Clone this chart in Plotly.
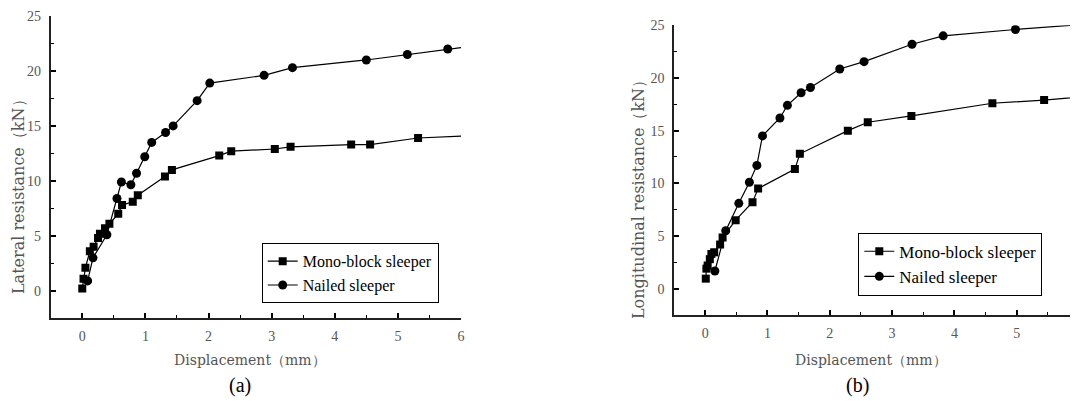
import plotly.graph_objects as go

# ---------------- data ----------------
# (a) lateral resistance
a_mono_x = [0.0, 0.02, 0.05, 0.12, 0.18, 0.25, 0.28, 0.36, 0.43, 0.57, 0.63, 0.80, 0.88, 1.31, 1.42,
            2.17, 2.36, 3.05, 3.30, 4.26, 4.56, 5.32, 6.1]
a_mono_y = [0.2, 1.1, 2.1, 3.6, 4.0, 4.8, 5.2, 5.7, 6.1, 7.0, 7.8, 8.1, 8.7, 10.4, 11.0,
            12.3, 12.7, 12.9, 13.1, 13.3, 13.3, 13.9, 14.1]
a_nail_x = [0.085, 0.17, 0.39, 0.55, 0.62, 0.77, 0.86, 0.99, 1.10, 1.32, 1.44, 1.82, 2.02,
            2.88, 3.33, 4.50, 5.15, 5.79, 6.1]
a_nail_y = [0.9, 3.0, 5.1, 8.4, 9.9, 9.65, 10.7, 12.2, 13.5, 14.4, 15.0, 17.3, 18.9,
            19.6, 20.3, 21.0, 21.5, 22.0, 22.2]

# (b) longitudinal resistance
b_mono_x = [0.01, 0.02, 0.04, 0.075, 0.10, 0.145, 0.24, 0.28, 0.49, 0.76, 0.85, 1.44, 1.52,
            2.29, 2.61, 3.31, 4.61, 5.44, 6.1]
b_mono_y = [0.95, 1.9, 2.2, 2.8, 3.3, 3.45, 4.2, 4.85, 6.5, 8.2, 9.5, 11.35, 12.8,
            15.0, 15.8, 16.4, 17.6, 17.9, 18.25]
b_nail_x = [0.156, 0.33, 0.54, 0.71, 0.83, 0.92, 1.20, 1.32, 1.54, 1.69, 2.16, 2.55, 3.32,
            3.82, 4.98, 6.1]
b_nail_y = [1.68, 5.5, 8.1, 10.1, 11.7, 14.5, 16.2, 17.4, 18.6, 19.1, 20.85, 21.55, 23.2,
            24.0, 24.6, 25.1]

series_names = ["Mono-block sleeper", "Nailed sleeper"]
x_ticks = [0, 1, 2, 3, 4, 5, 6]
y_ticks = [0, 5, 10, 15, 20, 25]
x_title = "Displacement（mm）"
y_titles = ["Lateral resistance（kN）", "Longitudinal resistance（kN）"]
panel_labels = ["(a)", "(b)"]

W, H = 1078, 401
OFF = 8  # page body margin

def px(v):
    return (v - OFF) / W

def py(v):
    return 1 - (v - OFF) / H

TICK_FONT = dict(family="Liberation Serif", size=14, color="#555555")
XTITLE_FONT = dict(family="DejaVu Serif", size=14, color="#555555")
YTITLE_FONT = dict(family="DejaVu Serif", size=16, color="#555555")

fig = go.Figure()

def add_pair(xm, ym, xn, yn, xa, ya, leg):
    fig.add_trace(go.Scatter(x=xm, y=ym, mode="lines+markers", name=series_names[0],
                             xaxis=xa, yaxis=ya, legend=leg,
                             line=dict(color="black", width=1.2),
                             marker=dict(symbol="square", size=8, color="black")))
    fig.add_trace(go.Scatter(x=xn, y=yn, mode="lines+markers", name=series_names[1],
                             xaxis=xa, yaxis=ya, legend=leg,
                             line=dict(color="black", width=1.2),
                             marker=dict(symbol="circle", size=9, color="black")))

add_pair(a_mono_x, a_mono_y, a_nail_x, a_nail_y, "x", "y", "legend")
add_pair(b_mono_x, b_mono_y, b_nail_x, b_nail_y, "x2", "y2", "legend2")

def xaxis(domain, anchor):
    return dict(domain=domain, anchor=anchor, range=[-0.5, 6], tickvals=x_ticks,
                ticks="inside", ticklen=5, tickwidth=1.5, tickcolor="black",
                minor=dict(ticks="inside", ticklen=3, dtick=0.5, tick0=0, tickcolor="black", tickwidth=1.2),
                showline=True, linecolor="#222222", linewidth=2, showgrid=False, zeroline=False,
                tickfont=TICK_FONT, ticklabelstandoff=4, automargin=False)

def yaxis(domain, anchor):
    return dict(domain=domain, anchor=anchor, range=[-2.5, 25], tickvals=y_ticks,
                ticks="inside", ticklen=5, tickwidth=1.5, tickcolor="black",
                minor=dict(ticks="inside", ticklen=3, dtick=2.5, tick0=0, tickcolor="black", tickwidth=1.2),
                showline=True, linecolor="#222222", linewidth=1.6, showgrid=False, zeroline=False,
                tickfont=TICK_FONT, ticklabelstandoff=5, automargin=False)

fig.update_layout(
    width=W, height=H,
    margin=dict(l=0, r=0, t=0, b=0, autoexpand=False),
    paper_bgcolor="white", plot_bgcolor="white",
    showlegend=True,
    xaxis=xaxis([px(50.7), px(461)], "y"),
    yaxis=yaxis([py(318.3), py(16)], "x"),
    xaxis2=xaxis([px(674), px(1079)], "y2"),
    yaxis2=yaxis([py(315), py(25.3)], "x2"),
    legend=dict(x=px(261.7), y=py(243.3), xanchor="left", yanchor="top",
                bordercolor="black", borderwidth=1, bgcolor="white",
                font=dict(family="Liberation Serif", size=16, color="black"), tracegroupgap=0),
    legend2=dict(x=px(858.3), y=py(232.7), xanchor="left", yanchor="top",
                 bordercolor="black", borderwidth=1, bgcolor="white",
                 font=dict(family="Liberation Serif", size=17, color="black"), tracegroupgap=0),
)

ann = []
# axis titles
ann.append(dict(text=y_titles[0], x=px(18), y=py(193), textangle=-90, font=YTITLE_FONT))
ann.append(dict(text=y_titles[1], x=px(638), y=py(196), textangle=-90, font=YTITLE_FONT))
ann.append(dict(text=x_title, x=px(250), y=py(360), textangle=0, font=XTITLE_FONT))
ann.append(dict(text=x_title, x=px(871), y=py(360), textangle=0, font=XTITLE_FONT))
for a in ann:
    a.update(xref="paper", yref="paper", showarrow=False, xanchor="center", yanchor="middle")
# panel labels
for lab, xx in zip(panel_labels, [240, 857]):
    ann.append(dict(text=lab, x=px(xx), y=py(385), xref="paper", yref="paper",
                    showarrow=False, xanchor="center", yanchor="middle",
                    font=dict(family="Liberation Serif", size=20, color="black")))
fig.update_layout(annotations=ann)

fig.write_html("out.html")
